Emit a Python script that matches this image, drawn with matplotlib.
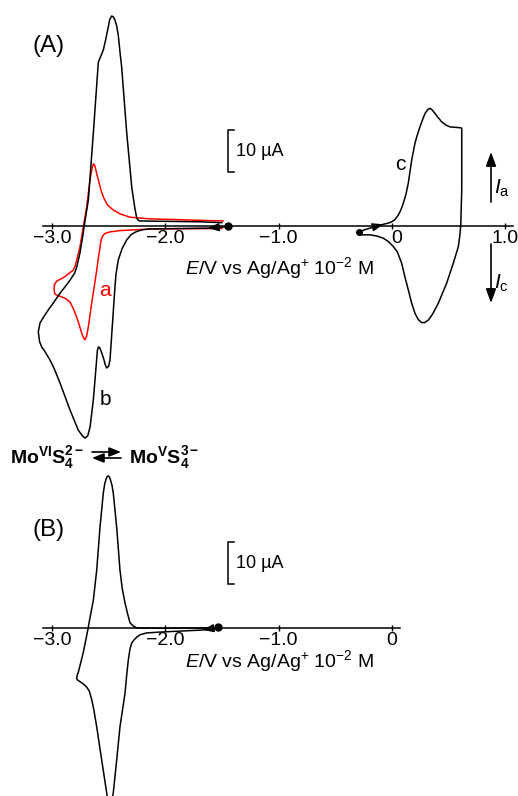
import numpy as np
import matplotlib
matplotlib.use('Agg')
import matplotlib.pyplot as plt

plt.rcParams['font.family'] = ['Liberation Sans', 'DejaVu Sans']
plt.rcParams['mathtext.fontset'] = 'custom'
plt.rcParams['mathtext.rm'] = 'Liberation Sans'
plt.rcParams['mathtext.it'] = 'Liberation Sans:italic'
plt.rcParams['mathtext.bf'] = 'Liberation Sans:bold'

W, H = 518, 796
PX_V = 113.25   # pixels per volt on both panels
PX_UA = 4.2     # pixels per microampere on both panels

# (A) curve a (red): potential / V, current / uA
a_v = [-1.50, -2.135, -2.40, -2.488, -2.535, -2.555, -2.568, -2.576, -2.59, -2.605,
       -2.649, -2.679, -2.695, -2.709, -2.722, -2.738, -2.76, -2.782, -2.81, -2.841,
       -2.88, -2.914, -2.955, -2.974, -2.982, -2.978, -2.96, -2.944, -2.90, -2.870,
       -2.812, -2.795, -2.782, -2.753, -2.724, -2.694, -2.664, -2.648, -2.635, -2.622,
       -2.61, -2.591, -2.57, -2.547, -2.51, -2.459, -2.40, -2.311, -2.135, -1.49]
a_i = [-0.6, -0.7, -1.1, -1.4, -1.8, -2.5, -3.5, -5.0, -7.5, -10.5,
       -18.3, -24.0, -26.3, -27.1, -26.6, -25.5, -23.5, -21.7, -19.8, -18.1,
       -17.3, -16.9, -16.5, -16.2, -15.2, -13.9, -13.2, -12.9, -12.3, -11.7,
       -10.5, -9.5, -8.1, -5.0, -0.2, 4.5, 11.0, 13.6, 14.8, 14.4,
       13.0, 11.0, 8.8, 6.9, 5.0, 3.8, 2.9, 2.1, 1.7, 1.2]

# (A) curve b (black)
b_v = [-1.446, -1.622, -2.135, -2.20, -2.252, -2.30, -2.340, -2.38, -2.415, -2.435,
       -2.444, -2.464, -2.478, -2.488, -2.50, -2.517, -2.53, -2.545, -2.561, -2.578,
       -2.591, -2.600, -2.611, -2.635, -2.664, -2.685, -2.709, -2.730, -2.768, -2.80,
       -2.841, -2.929, -2.98, -3.018, -3.06, -3.091, -3.11, -3.121,
       -3.106, -3.07, -3.033, -2.98, -2.929, -2.88, -2.841, -2.80, -2.782, -2.753,
       -2.724, -2.717, -2.679, -2.635, -2.591, -2.547, -2.525, -2.503, -2.49, -2.473,
       -2.458, -2.444, -2.43, -2.415, -2.40, -2.385, -2.34, -2.296, -2.27, -2.252,
       -2.235, -2.223, -1.693, -1.50]
b_i = [-0.1, -0.5, -0.7, -0.9, -1.3, -2.0, -3.3, -5.3, -8.1, -11.5,
       -14.5, -22.4, -28.0, -31.9, -33.4, -33.8, -33.0, -31.5, -30.2, -29.0,
       -28.8, -29.8, -33.6, -41.4, -47.9, -50.0, -50.5, -50.0, -48.6, -46.5,
       -43.8, -37.4, -34.0, -31.9, -30.0, -28.8, -27.5, -25.2,
       -23.1, -21.5, -20.0, -18.0, -16.0, -14.3, -12.9, -11.2, -9.8, -6.4,
       -1.7, -0.2, 6.2, 22.1, 39.0, 41.9, 44.5, 47.4, 49.2, 50.0,
       49.8, 49.0, 47.8, 45.5, 41.5, 37.9, 22.1, 9.3, 4.5, 1.9,
       1.3, 1.2, 1.0, 0.8]

# (A) curve c (black, anodic region)
c_v = [-0.287, -0.24, -0.192, -0.13, -0.075, -0.03, 0.000, 0.03, 0.058, 0.08,
       0.102, 0.125, 0.146, 0.176, 0.205, 0.227, 0.249, 0.272, 0.294, 0.320,
       0.338, 0.355, 0.382, 0.41, 0.441, 0.48, 0.514, 0.603, 0.618, 0.618,
       0.609, 0.600, 0.588, 0.543, 0.485, 0.411, 0.36, 0.323, 0.29, 0.264,
       0.235, 0.205, 0.175, 0.146, 0.115, 0.088, 0.05, 0.014, -0.03, -0.075,
       -0.13, -0.192, -0.287, -0.287]
c_i = [-1.4, -0.9, -0.5, 0.0, 0.4, 0.7, 1.0, 1.6, 2.6, 3.8,
       5.4, 7.5, 10.2, 15.7, 19.7, 21.8, 23.6, 25.3, 26.8, 27.8,
       28.0, 27.7, 26.8, 25.8, 24.8, 24.0, 23.6, 23.4, 23.3, 8.6,
       0.0, -2.5, -4.9, -8.9, -13.6, -18.4, -21.0, -22.4, -23.0, -23.0,
       -22.3, -20.8, -18.3, -15.2, -12.0, -8.9, -6.2, -4.9, -3.7, -2.9,
       -2.4, -2.1, -2.1, -1.4]

# (B) single curve
d_v = [-1.534, -1.667, -2.046, -2.164, -2.22, -2.252, -2.28, -2.296, -2.312, -2.326,
       -2.34, -2.355, -2.400, -2.429, -2.459, -2.478, -2.490, -2.503, -2.517, -2.561,
       -2.605, -2.63, -2.649, -2.67, -2.694, -2.725, -2.753, -2.775, -2.782, -2.776,
       -2.768, -2.724, -2.680, -2.673, -2.635, -2.605, -2.576, -2.547, -2.535, -2.523,
       -2.513, -2.503, -2.493, -2.483, -2.47, -2.459, -2.429, -2.400, -2.38, -2.355,
       -2.33, -2.311, -2.28, -2.252, -2.046, -1.605]
d_i = [0.2, -0.4, -0.9, -1.1, -1.5, -2.1, -2.9, -3.5, -5.0, -7.5,
       -11.0, -15.4, -23.5, -31.4, -39.2, -42.0, -42.5, -42.0, -39.2, -31.4,
       -23.5, -19.5, -17.0, -15.0, -14.0, -13.2, -12.7, -12.3, -12.0, -11.0,
       -10.5, -5.8, 0.1, 1.3, 6.7, 13.9, 24.1, 32.2, 34.3, 35.5,
       36.1, 36.3, 36.0, 35.3, 34.0, 32.2, 24.1, 13.9, 9.5, 6.0,
       3.2, 1.3, 0.5, 0.1, 0.0, 0.1]

ticks_a = [-3.0, -2.0, -1.0, 0.0, 1.0]
labels_a = ['\u22123.0', '\u22122.0', '\u22121.0', '0', '1.0']
ticks_b = [-3.0, -2.0, -1.0, 0.0]
labels_b = ['\u22123.0', '\u22122.0', '\u22121.0', '0']

fig = plt.figure(figsize=(W / 100, H / 100), dpi=100)


def fx(x):
    return x / W


def fy(y):
    return 1 - y / H


def make_axes(top, bottom, zero_y, xmax):
    ax = fig.add_axes([0, 1 - bottom / H, 1, (bottom - top) / H])
    x0 = -3.0 - 52 / PX_V
    ax.set_xlim(x0, x0 + W / PX_V)
    ax.set_ylim((zero_y - bottom) / PX_UA, (zero_y - top) / PX_UA)
    ax.patch.set_visible(False)
    for s in ('left', 'right', 'top'):
        ax.spines[s].set_visible(False)
    ax.spines['bottom'].set_position(('data', 0))
    ax.spines['bottom'].set_bounds(-3.08, xmax)
    ax.spines['bottom'].set_linewidth(1.1)
    ax.set_yticks([])
    ax.tick_params(axis='x', direction='inout', length=5, width=1.0,
                   labelsize=14, pad=0.5)
    return ax


def head(ax, v, i, k, color='k'):
    # arrowhead on the curve pointing from point k-1 to point k
    ax.annotate('', xy=(v[k], i[k]), xytext=(v[k - 1], i[k - 1]),
                arrowprops=dict(arrowstyle='-|>,head_length=0.45,head_width=0.17',
                                color=color, lw=1.1, shrinkA=0, shrinkB=0,
                                mutation_scale=14))


def scale_bar(ax, i0):
    xb = -3.0 + (228 - 52) / PX_V
    ax.plot([xb + 0.05, xb, xb, xb + 0.05], [i0, i0, i0 + 10, i0 + 10],
            color='k', lw=1.1, solid_joinstyle='miter')
    ax.text(xb + 8 / PX_V, i0 + 5, '10 \u00b5A', fontsize=13, ha='left', va='center')


# ---- panel A ----
axA = make_axes(0, 450, 226, 1.07)
axA.set_xticks(ticks_a, labels_a)
axA.xaxis.get_major_ticks()[3].label1.set_horizontalalignment('left')
axA.plot(a_v, a_i, color='#ff0000', lw=1.1)
axA.plot(b_v, b_i, color='k', lw=1.1)
axA.plot(c_v, c_i, color='k', lw=1.1)
axA.plot(b_v[0], b_i[0], 'o', color='k', ms=5)
axA.plot(c_v[0], c_i[0], 'o', color='k', ms=4)
head(axA, b_v, b_i, 1)
head(axA, c_v, c_i, 4)
scale_bar(axA, 12.8)

# ---- panel B ----
axB = make_axes(450, 796, 628.3, 0.07)
axB.set_xticks(ticks_b, labels_b)
axB.plot(d_v, d_i, color='k', lw=1.1)
axB.plot(d_v[0], d_i[0], 'o', color='k', ms=5)
head(axB, d_v, d_i, 1)
scale_bar(axB, 10.5)

# labels
xlabel = '$E$/V vs Ag/Ag$^{+}$ 10$^{-2}$ M'
fig.text(fx(185), fy(268), xlabel, fontsize=14, ha='left', va='center')
fig.text(fx(185), fy(661), xlabel, fontsize=14, ha='left', va='center')
fig.text(fx(49), fy(46), '(A)', fontsize=17.5, ha='center', va='center')
fig.text(fx(49), fy(530), '(B)', fontsize=17.5, ha='center', va='center')
fig.text(fx(105), fy(290), 'a', fontsize=15, color='#ff0000', ha='center', va='center')
fig.text(fx(105), fy(400), 'b', fontsize=15, ha='center', va='center')
fig.text(fx(400), fy(165), 'c', fontsize=15, ha='center', va='center')

# anodic / cathodic current directions
fig.text(fx(494), fy(188), '$I_\\mathrm{a}$', fontsize=15, ha='left', va='center')
fig.text(fx(494), fy(283), '$I_\\mathrm{c}$', fontsize=15, ha='left', va='center')
for y0, y1 in [(202, 152), (244, 303)]:
    fig.add_artist(matplotlib.patches.FancyArrowPatch(
        (fx(491), fy(y0)), (fx(491), fy(y1)), transform=fig.transFigure,
        arrowstyle='-|>,head_length=0.6,head_width=0.22', mutation_scale=14,
        color='k', lw=1.2, shrinkA=0, shrinkB=0))

# redox couple
fig.text(fx(10), fy(463), r'$\mathbf{Mo^{VI}S_4^{2-}}$', fontsize=14, va='baseline')
fig.text(fx(129), fy(463), r'$\mathbf{Mo^{V}S_4^{3-}}$', fontsize=14, va='baseline')
for (x0, x1, y) in [(92, 121, 452), (121, 92, 458)]:
    fig.add_artist(matplotlib.patches.FancyArrowPatch(
        (fx(x0), fy(y)), (fx(x1), fy(y)), transform=fig.transFigure,
        arrowstyle='-|>,head_length=0.5,head_width=0.2', mutation_scale=14,
        color='k', lw=1.2, shrinkA=0, shrinkB=0))

fig.savefig('out.png', dpi=100)
